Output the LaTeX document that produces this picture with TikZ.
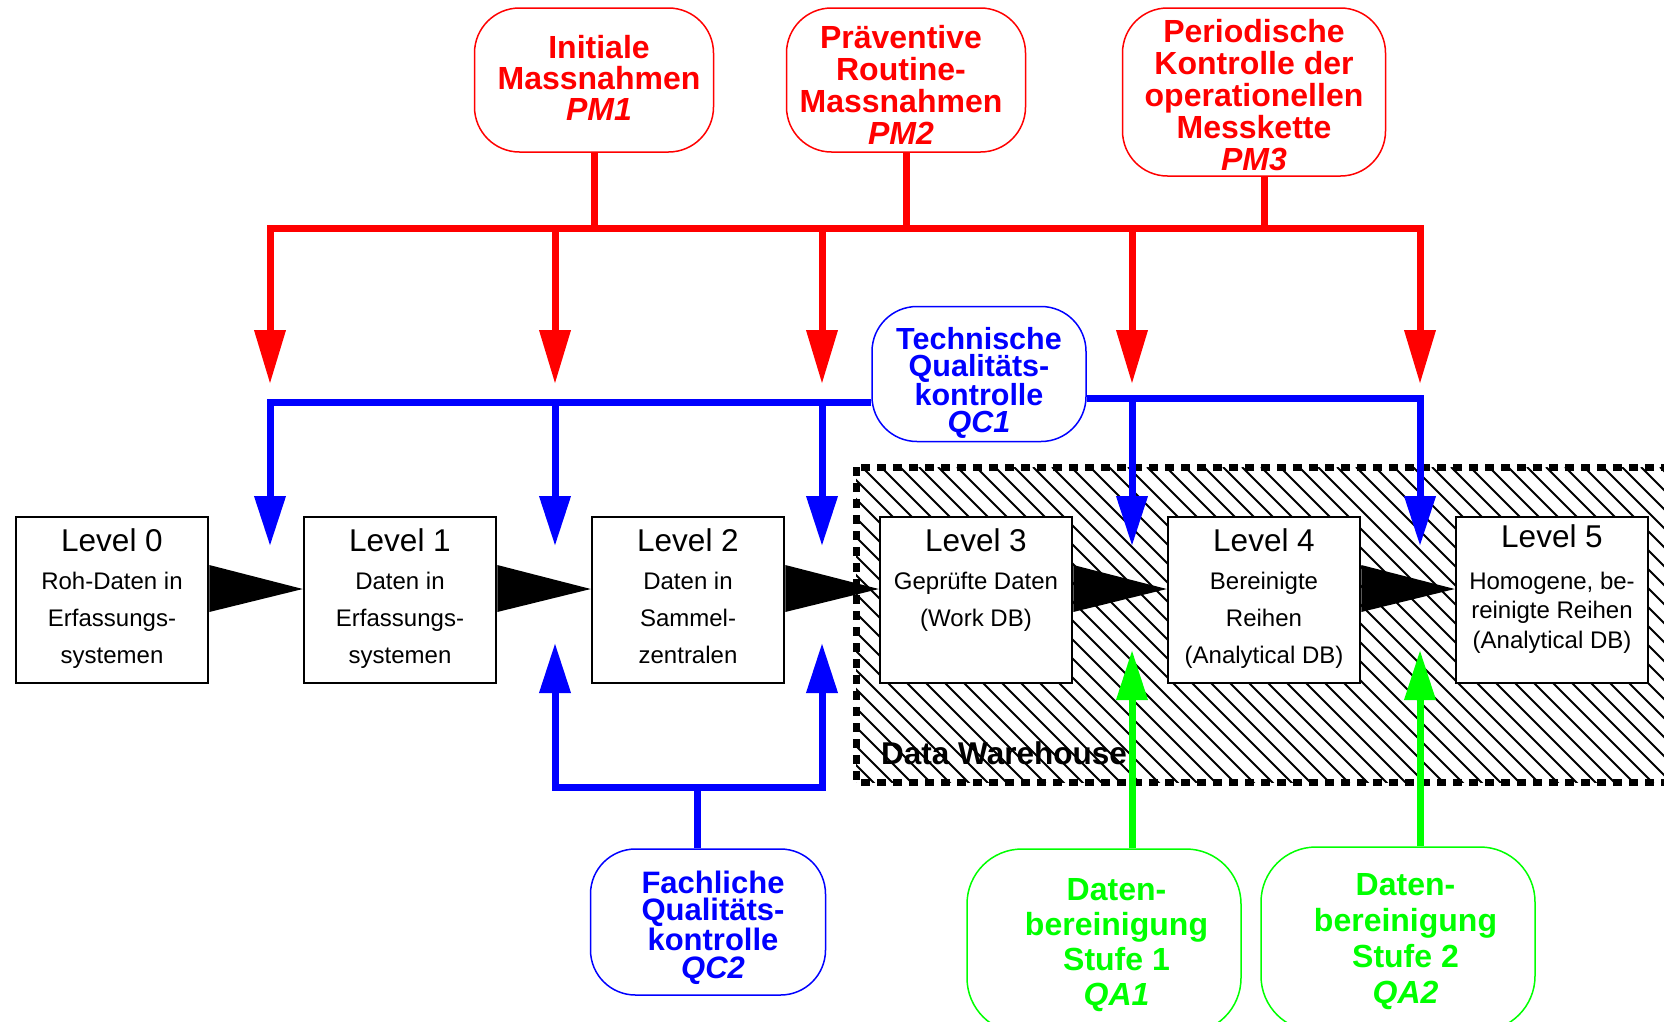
\documentclass[tikz,border=0pt]{standalone}
\usepackage{fontspec}
\setmainfont{Liberation Sans}
\usetikzlibrary{arrows.meta,calc,positioning}
\definecolor{pmred}{RGB}{255,0,0}
\definecolor{qcblue}{RGB}{0,0,255}
\definecolor{qagreen}{RGB}{0,255,0}
\tikzset{level/.style={draw,line width=2.5pt,fill=white,minimum width=192pt,minimum height=166pt,inner sep=0pt},
 title/.style={anchor=base,inner sep=0pt,font=\fontsize{31.5}{36}\selectfont},
 body/.style={anchor=north,inner sep=0pt,align=center,font=\fontsize{24}{37}\selectfont},
 measure/.style={draw=#1,fill=white,rounded corners=45pt,line width=1.5pt,inner sep=0pt},
 inscr/.style={text=#1,align=center,inner sep=0pt,font=\bfseries\fontsize{32}{32}\selectfont},
 stem/.style={line width=7pt},
 tip/.style={-{Triangle[length=50pt,width=30pt]}},
 twotips/.style={{Triangle[length=50pt,width=30pt]}-{Triangle[length=50pt,width=30pt]}},
 hatch/.style={line width=2pt}}

\begin{document}
\begin{tikzpicture}[x=1pt,y=-1pt]
\useasboundingbox (0,0) rectangle (1664,1021);
\begin{scope}
\clip (856,467) rectangle (1700,782);
\foreach \h in {520,539,...,1700} \draw[hatch] (\h,467) -- ++(330,330);
\end{scope}
\draw[line width=7pt,dash pattern=on 9pt off 7pt] (856,467) rectangle (1700,782);
\node[anchor=base west,inner sep=0pt,font=\bfseries\fontsize{31.5}{36}\selectfont] (dw) at (881,764) {Data Warehouse};

\node[level] (L0) at (112,600) {};
\node[level,right=93.5pt of L0] (L1) {};
\node[level,right=93.5pt of L1] (L2) {};
\node[level,right=93.5pt of L2] (L3) {};
\node[level,right=93.5pt of L3] (L4) {};
\node[level,right=93.5pt of L4] (L5) {};
\foreach \n/\txt in {0/{Roh-Daten in\\Erfassungs-\\systemen},1/{Daten in\\Erfassungs-\\systemen},
 2/{Daten in\\Sammel-\\zentralen},3/{Geprüfte Daten\\(Work DB)},4/{Bereinigte\\Reihen\\(Analytical DB)}}{
 \node[title] (T\n) at ($(L\n.north)+(0,36)$) {Level \n};
 \node[body] (B\n) at ($(L\n.north)+(0,56)$) {\txt};
}
\node[title] (T5) at ($(L5.north)+(0,32)$) {Level 5};
\node[body,font=\fontsize{24}{29.5}\selectfont] (B5) at ($(L5.north)+(0,56)$) {Homogene, be-\\reinigte Reihen\\(Analytical DB)};
\foreach \a/\b in {L0/L1,L1/L2,L2/L3,L3/L4,L4/L5}
 \fill ($(\a.east)+(0,-35)$) -- ($(\a.east)+(0,12)$) -- ($(\b.west)+(0,-11)$) -- cycle;

\node[measure=pmred,minimum width=239pt,minimum height=144pt,
 label={[inscr=pmred,name=PM1t,xshift=5pt,yshift=2.5pt,font=\bfseries\fontsize{32}{31}\selectfont]center:{Initiale\\Massnahmen\\\textit{PM1}}}] (PM1) at (594,80) {};
\node[measure=pmred,minimum width=239pt,minimum height=144pt,
 label={[inscr=pmred,name=PM2t,xshift=-5pt,yshift=-5pt]center:{Präventive\\Routine-\\Massnahmen\\\textit{PM2}}}] (PM2) at (906,80) {};
\node[measure=pmred,minimum width=263pt,minimum height=168pt,
 label={[inscr=pmred,name=PM3t,yshift=-3pt]center:{Periodische\\Kontrolle der\\operationellen\\Messkette\\\textit{PM3}}}] (PM3) at (1254,92) {};
\node[measure=qcblue,minimum width=214pt,minimum height=135pt,
 label={[inscr=qcblue,name=QC1t,yshift=-9pt,font=\bfseries\fontsize{30.5}{27.3}\selectfont]center:{Technische\\Qualitäts-\\kontrolle\\\textit{QC1}}}] (QC1) at (979,374) {};
\node[measure=qcblue,minimum width=235pt,minimum height=146pt,
 label={[inscr=qcblue,name=QC2t,xshift=5pt,yshift=-5.5pt,font=\bfseries\fontsize{31}{27.7}\selectfont]center:{Fachliche\\Qualitäts-\\kontrolle\\\textit{QC2}}}] (QC2) at (708,922) {};
\node[measure=qagreen,rounded corners=55pt,minimum width=274pt,minimum height=184pt,
 label={[inscr=qagreen,name=QA1t,xshift=12.5pt,yshift=-4pt,font=\bfseries\fontsize{32}{35}\selectfont]center:{Daten-\\bereinigung\\Stufe 1\\\textit{QA1}}}] (QA1) at (1104,941) {};
\node[measure=qagreen,rounded corners=55pt,minimum width=274pt,minimum height=184pt,
 label={[inscr=qagreen,name=QA2t,xshift=7.5pt,yshift=-3pt,font=\bfseries\fontsize{32}{36}\selectfont]center:{Daten-\\bereinigung\\Stufe 2\\\textit{QA2}}}] (QA2) at (1398,939) {};

\foreach \c/\x in {a/270,b/555,c/822,d/1132,e/1420} \coordinate (col\c) at (\x,228);
\draw[stem,pmred,{Triangle[length=54pt,width=30pt]}-{Triangle[length=54pt,width=30pt]}] (cola |- 0,384) |- (cole) -- (cole |- 0,384);
\foreach \c in {b,c,d} \draw[stem,pmred,-{Triangle[length=54pt,width=30pt]}] (col\c) -- (col\c |- 0,384);
\draw[stem,pmred] (PM1.south) -- (PM1.south |- cola);
\draw[stem,pmred] (PM2.south) -- (PM2.south |- cola);
\draw[stem,pmred] (PM3.south -| 1264,0) -- (1264,228);

\draw[stem,tip,qcblue] (QC1.west |- 0,402) -| (cola |- 0,546);
\foreach \c in {b,c} \draw[stem,tip,qcblue] (col\c |- 0,402) -- (col\c |- 0,546);
\draw[stem,tip,qcblue] (QC1.east |- 0,398) -| (cole |- 0,546);
\draw[stem,tip,qcblue] (cold |- 0,398) -- (cold |- 0,546);
\draw[stem,twotips,qcblue] (colb |- 0,643) |- (colc |- 0,787) -- (colc |- 0,643);
\draw[stem,qcblue] (QC2.north -| 697,0) -- (697,787);

\draw[stem,tip,qagreen] (QA1.north -| cold) -- (cold |- 0,650);
\draw[stem,tip,qagreen] (QA2.north -| cole) -- (cole |- 0,650);
\end{tikzpicture}
\end{document}
